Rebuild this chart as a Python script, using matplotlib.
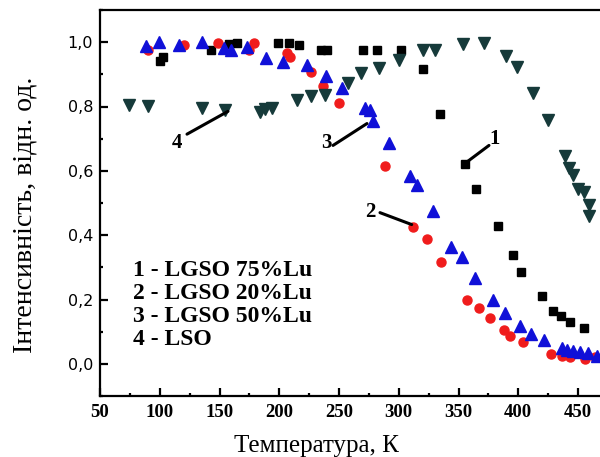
import matplotlib
matplotlib.use("Agg")
import matplotlib.pyplot as plt
from matplotlib.ticker import MultipleLocator, FuncFormatter

# 1 - LGSO 75%Lu
t1 = [100.2, 102.7, 142.6, 158.2, 164.9, 199.0, 208.4, 216.8, 235.2, 239.7,
      270.3, 281.5, 302.1, 320.0, 334.5, 355.2, 364.6, 383.0, 395.3, 402.5,
      420.1, 429.3, 435.5, 443.3, 455.0]
i1 = [0.942, 0.955, 0.977, 0.994, 0.996, 0.996, 0.998, 0.992, 0.977, 0.977,
      0.977, 0.977, 0.977, 0.917, 0.778, 0.622, 0.543, 0.428, 0.339, 0.287,
      0.210, 0.165, 0.148, 0.129, 0.111]

# 2 - LGSO 20%Lu
t2 = [90.4, 120.3, 148.7, 174.4, 178.9, 206.2, 209.0, 226.3, 236.9, 250.2,
      288.7, 311.7, 323.4, 335.4, 357.4, 367.4, 376.3, 388.1, 393.1, 404.2,
      427.7, 436.3, 443.3, 455.9, 464.2]
i2 = [0.975, 0.990, 0.996, 0.977, 0.996, 0.967, 0.955, 0.907, 0.865, 0.812,
      0.614, 0.426, 0.387, 0.316, 0.200, 0.173, 0.144, 0.104, 0.086, 0.067,
      0.032, 0.024, 0.020, 0.016, 0.020]

# 3 - LGSO 50%Lu
t3 = [88.5, 99.1, 115.9, 135.4, 153.8, 159.4, 172.8, 188.9, 202.9, 222.9,
      239.1, 252.5, 271.5, 275.9, 278.7, 291.6, 309.4, 315.5, 328.4, 344.0,
      352.9, 364.0, 378.6, 389.2, 401.5, 410.4, 421.5, 436.3, 440.5, 446.1,
      451.7, 458.6, 465.6]
i3 = [0.988, 1.000, 0.990, 1.002, 0.981, 0.977, 0.984, 0.952, 0.938, 0.928,
      0.896, 0.857, 0.795, 0.789, 0.756, 0.685, 0.583, 0.557, 0.476, 0.364,
      0.333, 0.268, 0.198, 0.159, 0.117, 0.094, 0.073, 0.049, 0.044, 0.040,
      0.038, 0.034, 0.024]

# 4 - LSO
t4 = [74.5, 89.9, 135.4, 154.3, 183.9, 188.3, 193.9, 215.1, 226.8, 238.0,
      257.5, 268.1, 283.7, 300.4, 320.5, 330.0, 353.4, 371.3, 389.7, 399.1,
      412.0, 425.1, 438.8, 442.7, 446.0, 450.0, 455.0, 458.9, 458.9]
i4 = [0.805, 0.803, 0.795, 0.789, 0.782, 0.791, 0.795, 0.820, 0.834, 0.836,
      0.874, 0.905, 0.919, 0.944, 0.975, 0.975, 0.994, 0.996, 0.957, 0.924,
      0.841, 0.758, 0.646, 0.610, 0.586, 0.544, 0.534, 0.494, 0.459]

legend_lines = ["1 - LGSO 75%Lu", "2 - LGSO 20%Lu", "3 - LGSO 50%Lu", "4 - LSO"]

# curve number labels: (label, text x, text y, line start, line end)
callouts = [
    ("1", 380.5, 0.698, (355.4, 0.623), (375.5, 0.679)),
    ("2", 275.9, 0.471, (284.3, 0.470), (310.8, 0.433)),
    ("3", 239.1, 0.688, (245.0, 0.679), (273.4, 0.747)),
    ("4", 114.4, 0.685, (122.8, 0.714), (157.1, 0.785)),
]

SERIF = "Liberation Serif"
SANS = "DejaVu Sans"

W, H = 600, 457
fig = plt.figure(figsize=(W / 100, H / 100), dpi=100)
ax = fig.add_axes([100 / W, 61 / H, 500 / W, 386 / H])

ax.plot(t1, i1, ls="none", marker="s", ms=6.0, color="black", mec="black")
ax.plot(t2, i2, ls="none", marker="o", ms=6.5, color="#f01c1c", mec="#f01c1c")
ax.plot(t3, i3, ls="none", marker="^", ms=8.0, color="#1010d8", mec="#1010d8")
ax.plot(t4, i4, ls="none", marker="v", ms=8.0, color="#163a3a", mec="#163a3a")

ax.set_xlim(50, 468.4)
ax.set_ylim(-0.1, 1.1)

ax.xaxis.set_major_locator(MultipleLocator(50))
ax.xaxis.set_minor_locator(MultipleLocator(25))
ax.yaxis.set_minor_locator(MultipleLocator(0.1))
ax.set_yticks([0.0, 0.2, 0.4, 0.6, 0.8, 1.0])
ax.yaxis.set_major_formatter(FuncFormatter(lambda v, p: f"{abs(v):.1f}".replace(".", ",")))

ax.tick_params(which="major", direction="in", length=6, width=1.6)
ax.tick_params(which="minor", direction="in", length=2.5, width=1.6)
ax.tick_params(axis="x", pad=6)
ax.tick_params(axis="y", pad=5)

for lab in ax.get_xticklabels():
    lab.set_fontfamily(SERIF)
    lab.set_fontweight("bold")
    lab.set_fontsize(13.5)
for lab in ax.get_yticklabels():
    lab.set_fontfamily(SANS)
    lab.set_fontsize(11.5)

for side in ("left", "bottom", "top"):
    ax.spines[side].set_linewidth(1.6)
ax.spines["right"].set_visible(False)

# axis titles
fig.text(316 / W, 1 - 452 / H, "Температура, К", fontfamily=SERIF,
         fontsize=18, ha="center", va="baseline")
fig.text(32 / W, 1 - 215 / H, "Інтенсивність, відн. од.", fontfamily=SERIF,
         fontsize=20, rotation=90, rotation_mode="anchor",
         ha="center", va="baseline")

for k, line in enumerate(legend_lines):
    fig.text(133 / W, 1 - (270 + 23.3 * k) / H, line, fontfamily=SERIF,
             fontweight="bold", fontsize=17, va="center", ha="left")

for lab, tx, ty, p0, p1 in callouts:
    ax.text(tx, ty, lab, fontfamily=SERIF, fontweight="bold", fontsize=15,
            ha="center", va="center")
    ax.plot([p0[0], p1[0]], [p0[1], p1[1]], color="black", lw=2.2,
            solid_capstyle="round")

fig.savefig("out.png", dpi=100)
